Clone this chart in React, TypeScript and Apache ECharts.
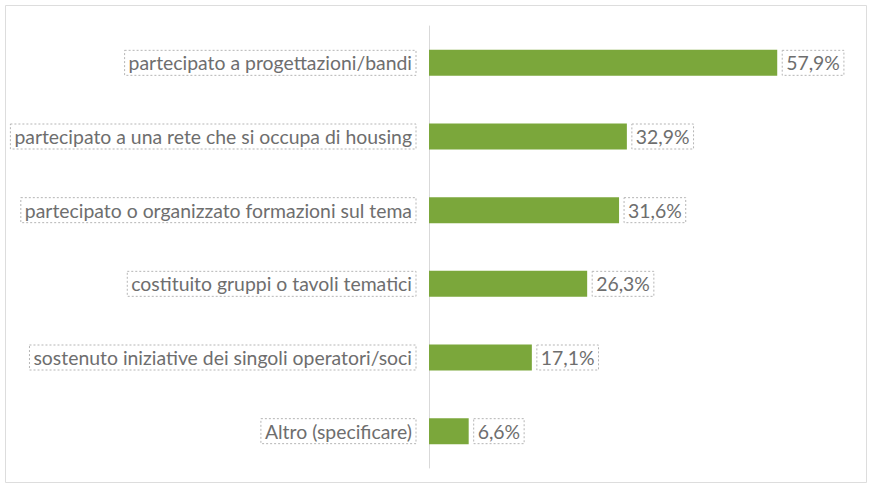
import React, { useEffect, useRef } from "react";
import * as echarts from "echarts";

const categories = [
  "partecipato a progettazioni/bandi",
  "partecipato a una rete che si occupa di housing",
  "partecipato o organizzato formazioni sul tema",
  "costituito gruppi o tavoli tematici",
  "sostenuto iniziative dei singoli operatori/soci",
  "Altro (specificare)",
];
const values = [57.9, 32.9, 31.6, 26.3, 17.1, 6.6];

const FONT = "Lato";
const TEXT = "#6e6e6e";
const BORDER = "#b5b5b5";
const GREEN = "#7ba73b";

export default function App() {
  const ref = useRef<HTMLDivElement>(null);
  useEffect(() => {
    if (!ref.current) return;
    const chart = echarts.init(ref.current, undefined, { renderer: "svg" });
    chart.setOption({
      animation: false,
      backgroundColor: "#ffffff",
      graphic: [
        {
          type: "rect",
          shape: { x: 5.5, y: 5.5, width: 861, height: 477 },
          style: { fill: "none", stroke: "#dddddd", lineWidth: 1 },
          silent: true,
        },
      ],
      grid: { left: 429, right: 21, top: 26, bottom: 19, containLabel: false },
      xAxis: {
        type: "value",
        min: 0,
        max: 70,
        show: false,
        splitLine: { show: false },
      },
      yAxis: {
        type: "category",
        data: categories,
        inverse: true,
        axisLine: { show: true, lineStyle: { color: "#d9d9d9", width: 1 } },
        axisTick: { show: false },
        splitLine: { show: false },
        axisLabel: {
          margin: 13,
          color: TEXT,
          fontFamily: FONT,
          fontSize: 19.4,
          lineHeight: 21,
          padding: [3, 4, 1, 4],
          borderColor: BORDER,
          borderWidth: 1,
          borderType: [2, 2],
        },
      },
      series: [
        {
          type: "bar",
          data: values,
          barWidth: 26,
          itemStyle: { color: GREEN },
          label: {
            show: true,
            position: "right",
            distance: 5,
            color: TEXT,
            fontFamily: FONT,
            fontSize: 19.4,
            lineHeight: 21,
            padding: [3, 4, 1, 4],
            borderColor: BORDER,
            borderWidth: 1,
            borderType: [2, 2],
            formatter: (p: any) => p.value.toFixed(1).replace(".", ",") + "%",
          },
        },
      ],
    });
    return () => chart.dispose();
  }, []);
  return (
    <div
      ref={ref}
      style={{ position: "fixed", left: 0, top: 0, width: 871, height: 487 }}
    />
  );
}
